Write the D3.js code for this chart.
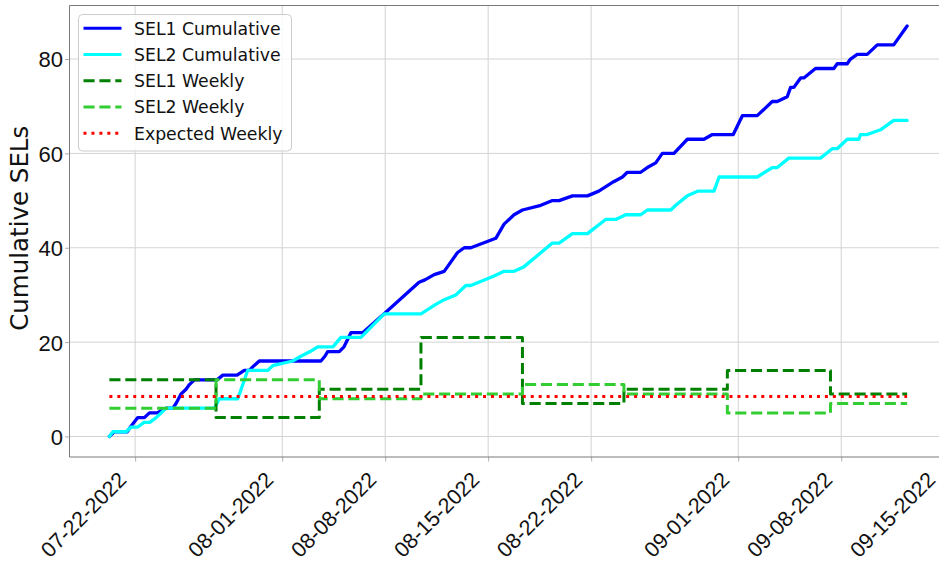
<!DOCTYPE html>
<html>
<head>
<meta charset="utf-8">
<script src="https://cdn.jsdelivr.net/npm/d3@7"></script>
<style>
  html, body { margin: 0; padding: 0; background: #fff; }
  svg { display: block; font-family: "DejaVu Sans", sans-serif; }
</style>
</head>
<body>
<svg id="chart" width="939" height="566"></svg>
<script>
// ---------------- DATA ----------------
const baseDate = "2022-07-22T00:00:00Z";           // day 0 of the day offsets below
// SEL1 cumulative: vertices (day offset, cumulative count)
const sel1Days = [-1.75,-1.41,-0.54,-0.32,-0.07,0.18,0.63,0.97,1.49,2.11,2.56,2.78,2.95,3.12,3.46,3.69,4.03,5.57,5.96,6.93,7.42,7.76,8.08,8.44,12.63,12.9,13.09,13.88,14.2,14.67,15.47,16.93,19.3,19.7,20.33,21.01,21.92,22.37,22.82,24.52,25.08,25.76,26.33,27.58,28.37,28.82,29.73,30.75,31.52,32.53,33.13,33.46,34.37,34.82,35.39,35.84,36.63,37.54,38.67,39.24,40.66,41.28,42.29,43.31,43.65,44.33,44.56,44.78,45.24,45.46,46.25,47.5,47.73,48.41,48.63,49.09,49.77,50.45,51.57,52.48];
const sel1Cum  = [0,1,1,2,3,4,4,5,5,6,6,7,8,9,10,11,12,12,13,13,14,14,15,16,16,17,18,18,19,22,22,26,32.7,33.2,34.3,35,39,40,40,42,45,47,48,49,50,50,51,51,52,54,55,56,56,57,58,60,60,63,63,64,64,68,68,71,71,72,74,74,76,76,78,78,79,79,80,81,81,83,83,87];
// SEL2 cumulative
const sel2Days = [-1.75,-1.51,-0.61,-0.27,0.18,0.61,1.0,1.43,1.77,2.11,5.39,5.73,6.98,7.65,7.88,9.01,9.35,10.71,11.27,11.9,12.41,13.45,13.99,15.35,16.93,19.43,20.44,21.01,21.8,22.48,22.82,24.4,25.08,25.76,26.44,28.37,28.82,29.73,30.75,31.99,32.67,33.35,34.37,34.82,36.41,36.75,37.54,38.24,39.35,39.7,42.29,43.31,43.65,44.44,46.59,47.39,47.73,48.41,49.2,49.31,49.77,50.67,51.57,52.48];
const sel2Cum  = [0,1,1,2,2,3,3,4,5,6,6,8,8,14,14,14,15,16,17,18,19,19,21,21,26,26,28,29,30,32,32,34,35,35,36,41,41,43,43,46,46,47,47,48,48,49,51,52,52,55,55,57,57,59,59,61,61,63,63,64,64,65,67,67];
// weekly totals (week boundaries as day offsets; one more boundary than values)
const weekBounds   = [-1.75, 5.50, 12.52, 19.43, 26.33, 33.23, 40.26, 47.27, 52.48];
const sel1Weekly   = [12, 4, 10, 21, 7, 10, 14, 9];
const sel2Weekly   = [6, 12, 8, 9, 11, 9, 5, 7];
const expectedWeekly = 8.5;
// axes
const yTicks = [0, 20, 40, 60, 80];
const xTickDates = ["2022-07-22","2022-08-01","2022-08-08","2022-08-15","2022-08-22","2022-09-01","2022-09-08","2022-09-15"];
const yLabel = "Cumulative SELs";
const legendNames = ["SEL1 Cumulative","SEL2 Cumulative","SEL1 Weekly","SEL2 Weekly","Expected Weekly"];

// ---------------- HELPERS ----------------
const base = new Date(baseDate).getTime();
const toDate = d => new Date(base + d * 86400000);
const cumPts = (days, vals) => days.map((d, i) => ({ t: toDate(d), v: vals[i] }));
const weekPts = vals => {
  const p = [];
  vals.forEach((v, i) => { p.push({ t: toDate(weekBounds[i]), v }); p.push({ t: toDate(weekBounds[i + 1]), v }); });
  return p;
};

// ---------------- LAYOUT ----------------
const svg = d3.select("#chart");
const L = 69.5, T = 5.5, B = 457, R = 947;

const allT = sel1Days.concat(sel2Days, weekBounds);
const tMin = d3.min(allT), tMax = d3.max(allT), tPad = (tMax - tMin) * 0.05;
const x = d3.scaleUtc().domain([toDate(tMin - tPad), toDate(tMax + tPad)]).range([L, R]);
const yMax = d3.max(sel1Cum.concat(sel2Cum, sel1Weekly, sel2Weekly)), yPad = yMax * 0.05;
const y = d3.scaleLinear().domain([-yPad, yMax + yPad]).range([B, T]);

// grid
const grid = svg.append("g");
grid.selectAll(".gx").data(xTickDates).join("line")
  .attr("x1", d => x(new Date(d + "T00:00:00Z"))).attr("x2", d => x(new Date(d + "T00:00:00Z")))
  .attr("y1", T).attr("y2", B).attr("stroke", "#d3d3d3").attr("stroke-width", 1);
grid.selectAll(".gy").data(yTicks).join("line")
  .attr("x1", L).attr("x2", R).attr("y1", d => y(d)).attr("y2", d => y(d))
  .attr("stroke", "#d3d3d3").attr("stroke-width", 1);

// axes
const fmt = d3.utcFormat("%m-%d-%Y");
const xAxis = svg.append("g").attr("transform", `translate(0,${B})`)
  .call(d3.axisBottom(x).tickValues(xTickDates.map(d => new Date(d + "T00:00:00Z"))).tickFormat(fmt).tickSize(4.5).tickPadding(0));
xAxis.select(".domain").remove();
xAxis.selectAll(".tick line").attr("stroke", "#b0b0b0");
xAxis.selectAll(".tick text")
  .attr("font-size", "21.5px").attr("fill", "#111").attr("text-anchor", "end")
  .attr("x", 0).attr("y", 0).attr("dy", 0)
  .attr("transform", "translate(-8,24) rotate(-45)");

const yAxis = svg.append("g").attr("transform", `translate(${L},0)`)
  .call(d3.axisLeft(y).tickValues(yTicks).tickFormat(d3.format("d")).tickSize(4.5).tickPadding(2));
yAxis.select(".domain").remove();
yAxis.selectAll(".tick line").attr("stroke", "#b0b0b0");
yAxis.selectAll(".tick text").attr("font-size", "22px").attr("fill", "#111").attr("dy", "0.36em");

// spines
svg.append("line").attr("x1", L).attr("x2", L).attr("y1", T).attr("y2", B).attr("stroke", "#7a7a7a");
svg.append("line").attr("x1", L).attr("x2", R).attr("y1", B).attr("y2", B).attr("stroke", "#7a7a7a");
svg.append("line").attr("x1", L).attr("x2", R).attr("y1", T).attr("y2", T).attr("stroke", "#7a7a7a");

// y label
svg.append("text").attr("transform", `translate(28,${(T + B) / 2 - 3}) rotate(-90)`)
  .attr("text-anchor", "middle").attr("font-size", "24.5px").attr("fill", "#111").text(yLabel);

// lines
const line = d3.line().x(d => x(d.t)).y(d => y(d.v));
const plot = svg.append("g");
const series = [
  { pts: cumPts(sel1Days, sel1Cum), color: "#0000ff", dash: null },
  { pts: cumPts(sel2Days, sel2Cum), color: "#00ffff", dash: null },
  { pts: weekPts(sel1Weekly), color: "#008000", dash: "11.1,4.8" },
  { pts: weekPts(sel2Weekly), color: "#32cd32", dash: "11.1,4.8" },
  { pts: [{ t: toDate(weekBounds[0]), v: expectedWeekly }, { t: toDate(weekBounds[weekBounds.length - 1]), v: expectedWeekly }], color: "#ff0000", dash: "3,4.95" }
];
series.forEach(s => {
  plot.append("path").datum(s.pts).attr("d", line).attr("fill", "none")
    .attr("stroke", s.color).attr("stroke-width", s.dash ? 3 : 3.3)
    .attr("stroke-linejoin", "round").attr("stroke-linecap", s.dash ? "butt" : "round")
    .attr("stroke-dasharray", s.dash);
});

// legend
const lg = svg.append("g");
lg.append("rect").attr("x", 78.5).attr("y", 14.5).attr("width", 213).attr("height", 136.5).attr("rx", 4)
  .attr("fill", "#fff").attr("fill-opacity", 0.8).attr("stroke", "#cccccc");
series.forEach((s, i) => {
  const cy = 28.3 + i * 26.25;
  lg.append("line").attr("x1", 83.5).attr("x2", 121.5).attr("y1", cy).attr("y2", cy)
    .attr("stroke", s.color).attr("stroke-width", 3).attr("stroke-dasharray", s.dash);
  lg.append("text").attr("x", 134).attr("y", cy).attr("dy", "0.36em")
    .attr("font-size", "17.3px").attr("fill", "#111").text(legendNames[i]);
});
</script>
</body>
</html>
